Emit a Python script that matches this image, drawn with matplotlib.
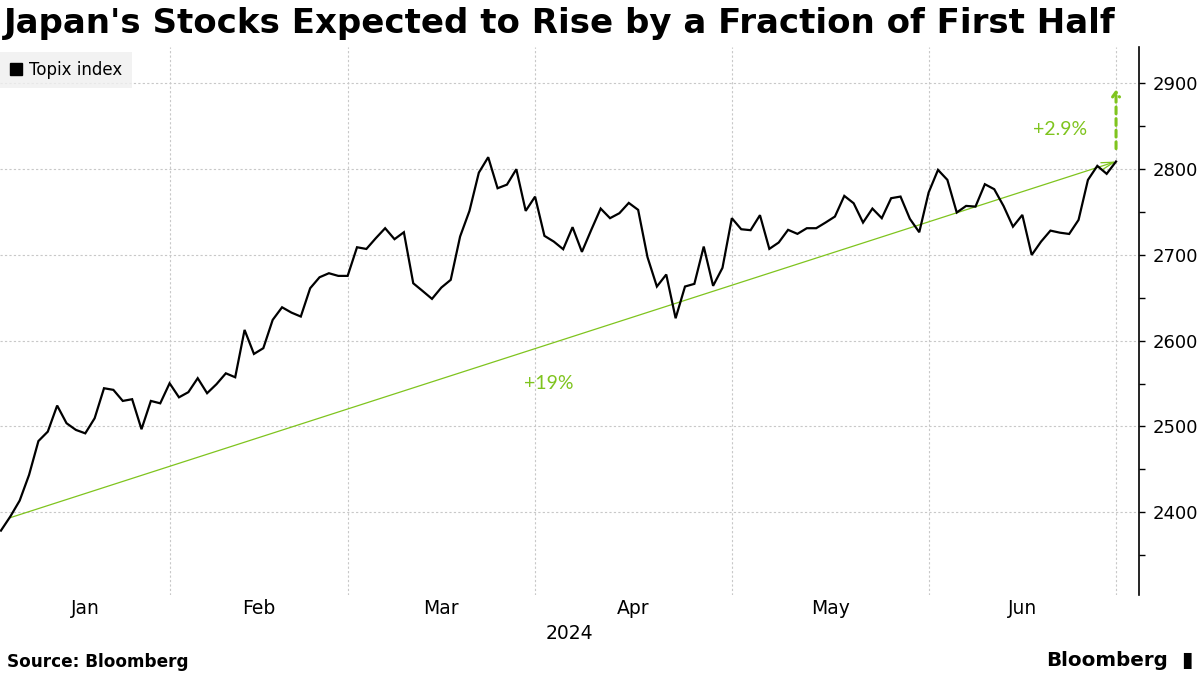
import matplotlib
matplotlib.use("Agg")
import matplotlib.pyplot as plt
from matplotlib.lines import Line2D
from matplotlib.ticker import MultipleLocator, NullFormatter

# ---- data (Topix index, trading days Jan 4 2024 .. Jun 28 2024) ----
topix = [
    2378.6, 2395.0, 2413.6, 2443.5, 2483.0, 2494.0, 2524.4, 2503.8, 2496.0, 2492.0,
    2509.6, 2544.6, 2542.7, 2529.8, 2531.8, 2496.8, 2529.8, 2527.0, 2550.4, 2534.0,
    2540.0, 2556.3, 2538.8, 2549.3, 2562.0, 2557.4, 2612.6, 2584.6, 2591.3, 2624.3,
    2639.0, 2632.8, 2628.2, 2661.2, 2674.0, 2678.7, 2675.6, 2675.6, 2709.0, 2707.0,
    2719.5, 2731.2, 2718.4, 2726.5, 2667.0, 2658.0, 2648.8, 2662.0, 2671.0, 2721.5,
    2751.4, 2796.0, 2814.0, 2777.8, 2782.0, 2800.0, 2751.4, 2768.0, 2722.3, 2715.6,
    2706.7, 2732.4, 2703.6, 2729.3, 2754.1, 2742.9, 2748.7, 2760.7, 2752.6, 2697.4,
    2663.2, 2677.2, 2626.2, 2663.2, 2666.3, 2709.8, 2664.0, 2685.0, 2742.9, 2730.0,
    2728.9, 2746.4, 2707.1, 2714.5, 2729.3, 2724.6, 2731.2, 2731.2, 2737.8, 2744.8,
    2768.9, 2760.3, 2737.8, 2754.1, 2742.9, 2766.2, 2768.1, 2742.1, 2726.5, 2772.8,
    2799.2, 2787.6, 2749.5, 2757.2, 2756.4, 2782.5, 2776.7, 2757.0, 2733.0, 2746.7,
    2700.0, 2715.6, 2728.4, 2726.0, 2724.5, 2740.9, 2787.5, 2803.9, 2794.6, 2809.0,
]
days = list(range(len(topix)))

months = ["Jan", "Feb", "Mar", "Apr", "May", "Jun"]
month_end_idx = [18, 37, 57, 78, 99, 119]       # last trading day of each month
year_label = "2024"
yticks = [2400, 2500, 2600, 2700, 2800, 2900]

trend_start = (1, 2393.7)       # start of +19% trend line
trend_label = "+19%"
trend_label_pos = (58.5, 2550)
upside_label = "+2.9%"
upside_label_pos = (113.0, 2846)
upside_target = 2893.0          # 2.9% above last close
upside_from = 2824.0

GREEN = "#7fc41e"

fig = plt.figure(figsize=(12, 6.75), dpi=100)
ax = fig.add_axes([0.0, 1 - 595 / 675, 1139 / 1200, (595 - 47) / 675])

ax.plot(days, topix, color="black", lw=1.6, zorder=4, solid_joinstyle="miter")

# +19% trend line with arrow
ax.annotate("", xy=(days[-1], topix[-1]), xytext=trend_start,
            arrowprops=dict(arrowstyle="->,head_length=0.9,head_width=0.25",
                            color=GREEN, lw=0.9, shrinkA=0, shrinkB=0),
            zorder=3)
ax.text(*trend_label_pos, trend_label, color=GREEN, fontsize=14, family="Lato",
        ha="center", va="center")

# +2.9% dashed arrow
ax.annotate("", xy=(days[-1], upside_target), xytext=(days[-1], upside_from),
            arrowprops=dict(arrowstyle="->,head_length=0.35,head_width=0.25",
                            color=GREEN, lw=2.2, linestyle=(0, (2.2, 1.6)),
                            shrinkA=0, shrinkB=0),
            zorder=3)
ax.text(*upside_label_pos, upside_label, color=GREEN, fontsize=14, family="Lato",
        ha="center", va="center")

ax.set_xlim(-0.1, 121.45)
ax.set_ylim(2303.5, 2942.5)

# grid
for yv in yticks:
    ax.axhline(yv, color="#c8c8c8", lw=0.8, ls=(0, (2, 2)), zorder=1)
for xi in month_end_idx:
    ax.axvline(xi, color="#c8c8c8", lw=0.8, ls=(0, (2, 2)), zorder=1)

# axes styling
for s in ["top", "left", "bottom"]:
    ax.spines[s].set_visible(False)
ax.spines["right"].set_color("black")
ax.spines["right"].set_linewidth(1.2)
ax.yaxis.tick_right()
ax.set_yticks(yticks)
ax.yaxis.set_minor_locator(MultipleLocator(50))
ax.yaxis.set_minor_formatter(NullFormatter())
ax.tick_params(axis="y", which="both", length=4, width=1, color="black",
               labelsize=13, pad=6, labelcolor="black")
ax.set_xticks([])

# month labels centered between month boundaries
bounds = [0] + month_end_idx
for m, a, b in zip(months, bounds[:-1], bounds[1:]):
    ax.text((a + b) / 2, -0.025, m, transform=ax.get_xaxis_transform(),
            ha="center", va="center", fontsize=13.5, color="black")
ax.text(0.5, -0.071, year_label, transform=ax.transAxes, ha="center",
        va="center", fontsize=13.5, color="black")

# legend
handle = Line2D([], [], marker="s", color="black", linestyle="None", markersize=8)
leg = fig.legend([handle], ["Topix index"], loc="upper left",
                 bbox_to_anchor=(0.0, 1 - 52 / 675), borderaxespad=0,
                 frameon=True, fancybox=False, facecolor="#efefef",
                 edgecolor="#efefef", fontsize=12, handlelength=0.8,
                 handletextpad=0.4, borderpad=0.55)
leg.get_frame().set_linewidth(0)

# title
fig.text(0.003, 1 - 23 / 675, "Japan's Stocks Expected to Rise by a Fraction of First Half",
         fontsize=24.5, fontweight="bold", ha="left", va="center", color="black")

# footer
fig.text(7 / 1200, 1 - 662 / 675, "Source: Bloomberg", fontsize=12.2,
         fontweight="bold", ha="left", va="center", color="black")
fig.text(1168 / 1200, 1 - 660 / 675, "Bloomberg", fontsize=14.3,
         fontweight="bold", ha="right", va="center", color="black")
fig.text(1187 / 1200, 1 - 660 / 675, "▮", fontsize=15,
         ha="center", va="center", color="black")

fig.savefig("out.png", dpi=100)
